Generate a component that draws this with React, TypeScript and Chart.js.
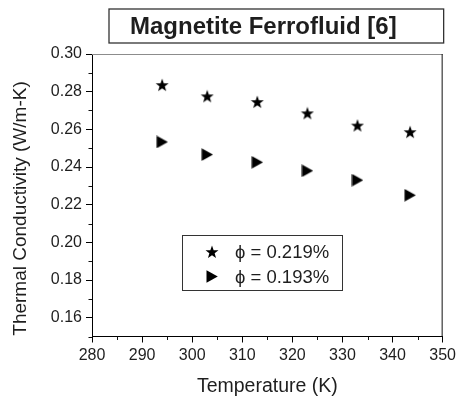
import React, { useEffect, useRef } from "react";
import { Chart, registerables } from "chart.js";

Chart.register(...registerables);

const temperatures = [294, 303, 313, 323, 333, 343.5];
const phi219 = [0.2835, 0.2775, 0.2745, 0.2685, 0.262, 0.2585];
const phi193 = [0.2533, 0.2466, 0.2425, 0.238, 0.233, 0.225];
const seriesLabels = ["\u03D5 = 0.219%", "\u03D5 = 0.193%"];
const chartTitle = "Magnetite Ferrofluid [6]";
const xTitle = "Temperature (K)";
const yTitle = "Thermal Conductivity (W/m-K)";

const FONT = "'Liberation Sans', Arial, sans-serif";
const INK = "#1e1e1e";

function makeStar(): HTMLCanvasElement {
  const c = document.createElement("canvas");
  c.width = 14;
  c.height = 14;
  const g = c.getContext("2d")!;
  const cx = 7, cy = 7.4, ro = 6.8, ri = 2.8;
  g.beginPath();
  for (let i = 0; i < 10; i++) {
    const r = i % 2 === 0 ? ro : ri;
    const a = -Math.PI / 2 + (i * Math.PI) / 5;
    const px = cx + r * Math.cos(a);
    const py = cy + r * Math.sin(a);
    if (i === 0) g.moveTo(px, py);
    else g.lineTo(px, py);
  }
  g.closePath();
  g.fillStyle = "#000";
  g.fill();
  return c;
}

function makeTriangle(): HTMLCanvasElement {
  const c = document.createElement("canvas");
  c.width = 12;
  c.height = 13;
  const g = c.getContext("2d")!;
  g.beginPath();
  g.moveTo(0.5, 0.3);
  g.lineTo(11.8, 6.5);
  g.lineTo(0.5, 12.7);
  g.closePath();
  g.fillStyle = "#000";
  g.fill();
  return c;
}

export default function App() {
  const ref = useRef<HTMLCanvasElement | null>(null);

  useEffect(() => {
    document.body.style.margin = "0";
    const canvas = ref.current!;
    const star = makeStar();
    const tri = makeTriangle();

    const decorPlugin = {
      id: "decor",
      afterDraw(chart: any) {
        const { ctx, chartArea } = chart;
        const { left, top, right, bottom } = chartArea;
        const xs = chart.scales.x;
        const ys = chart.scales.y;
        ctx.save();
        // frame top & right
        ctx.lineWidth = 1;
        ctx.strokeStyle = "#8c8c8c";
        ctx.beginPath();
        ctx.moveTo(left, top + 0.5);
        ctx.lineTo(right, top + 0.5);
        ctx.stroke();
        ctx.strokeStyle = "#111";
        ctx.beginPath();
        ctx.moveTo(right - 0.5, top);
        ctx.lineTo(right - 0.5, bottom);
        ctx.stroke();
        // minor ticks
        ctx.strokeStyle = "#111";
        ctx.beginPath();
        xs.ticks.forEach((t: any) => {
          if (Math.round(t.value) % 10 !== 0) {
            const px = Math.round(xs.getPixelForValue(t.value)) + 0.5;
            ctx.moveTo(px, bottom);
            ctx.lineTo(px, bottom + 3.5);
          }
        });
        ys.ticks.forEach((t: any) => {
          if (Math.round(t.value * 100) % 2 !== 0) {
            const py = Math.round(ys.getPixelForValue(t.value)) + 0.5;
            ctx.moveTo(left, py);
            ctx.lineTo(left - 3.5, py);
          }
        });
        ctx.stroke();

        // y-axis title
        ctx.save();
        ctx.translate(20.5, 208.5);
        ctx.rotate(-Math.PI / 2);
        ctx.fillStyle = INK;
        ctx.font = `19px ${FONT}`;
        ctx.textAlign = "center";
        ctx.textBaseline = "middle";
        ctx.fillText(yTitle, 0, 0);
        ctx.restore();

        // title box
        const tbL = left + 17, tbT = 9, tbR = right + 1, tbB = 43;
        ctx.lineWidth = 1.3;
        ctx.strokeStyle = "#333";
        ctx.strokeRect(tbL, tbT, tbR - tbL, tbB - tbT);
        ctx.fillStyle = INK;
        ctx.font = `bold 24px ${FONT}`;
        ctx.textAlign = "left";
        ctx.textBaseline = "middle";
        ctx.fillText(chartTitle, tbL + 21, (tbT + tbB) / 2 + 1);

        // legend box
        const lbL = left + 90, lbT = top + 181, lbW = 160, lbH = 55;
        ctx.lineWidth = 1;
        ctx.strokeStyle = "#333";
        ctx.strokeRect(lbL + 0.5, lbT + 0.5, lbW, lbH);
        const icons = [star, tri];
        ctx.font = `18.5px ${FONT}`;
        ctx.textAlign = "left";
        ctx.textBaseline = "middle";
        seriesLabels.forEach((lab, i) => {
          const cy = lbT + 17 + i * 24.5;
          const ic = icons[i];
          ctx.drawImage(ic, lbL + 30 - ic.width / 2, cy - ic.height / 2);
          ctx.fillStyle = INK;
          ctx.fillText(lab, lbL + 53, cy + 1);
        });
        ctx.restore();
      },
    };

    const chart = new Chart(canvas, {
      type: "scatter",
      data: {
        datasets: [
          {
            label: seriesLabels[0],
            data: temperatures.map((t, i) => ({ x: t, y: phi219[i] })),
            pointStyle: star as any,
            backgroundColor: "#000",
            borderColor: "#000",
          },
          {
            label: seriesLabels[1],
            data: temperatures.map((t, i) => ({ x: t, y: phi193[i] })),
            pointStyle: tri as any,
            backgroundColor: "#000",
            borderColor: "#000",
          },
        ],
      },
      options: {
        responsive: false,
        animation: false,
        layout: { padding: { top: 54, right: 15, left: 0, bottom: 0 } },
        plugins: {
          legend: { display: false },
          title: { display: false },
          tooltip: { enabled: false },
        },
        scales: {
          x: {
            type: "linear",
            min: 280,
            max: 350,
            afterFit: (s: any) => {
              s.height = 63.5;
            },
            border: { display: true, color: "#000", width: 1 },
            grid: {
              drawOnChartArea: false,
              drawTicks: true,
              tickLength: 6,
              tickColor: (c: any) =>
                c.tick && Math.round(c.tick.value) % 10 === 0 ? "#000" : "rgba(0,0,0,0)",
            },
            ticks: {
              stepSize: 5,
              autoSkip: false,
              maxRotation: 0,
              padding: 3,
              color: INK,
              font: { family: FONT, size: 16 },
              callback: (v: any) => (Math.round(v) % 10 === 0 ? String(Math.round(v)) : ""),
            },
            title: {
              display: true,
              text: xTitle,
              color: INK,
              font: { family: FONT, size: 19.5 },
              padding: { top: 0, bottom: 2 },
            },
          },
          y: {
            type: "linear",
            min: 0.15,
            max: 0.3,
            afterFit: (s: any) => {
              s.width = 92;
            },
            border: { display: true, color: "#000", width: 1 },
            grid: {
              drawOnChartArea: false,
              drawTicks: true,
              tickLength: 6,
              tickColor: (c: any) =>
                c.tick && Math.round(c.tick.value * 100) % 2 === 0 ? "#000" : "rgba(0,0,0,0)",
            },
            ticks: {
              stepSize: 0.01,
              autoSkip: false,
              padding: 4,
              color: INK,
              font: { family: FONT, size: 16 },
              callback: (v: any) =>
                Math.round(v * 100) % 2 === 0 ? (Math.round(v * 100) / 100).toFixed(2) : "",
            },
          },
        },
      },
      plugins: [decorPlugin],
    } as any);

    return () => chart.destroy();
  }, []);

  return <canvas ref={ref} width={459} height={400} style={{ display: "block" }} />;
}
